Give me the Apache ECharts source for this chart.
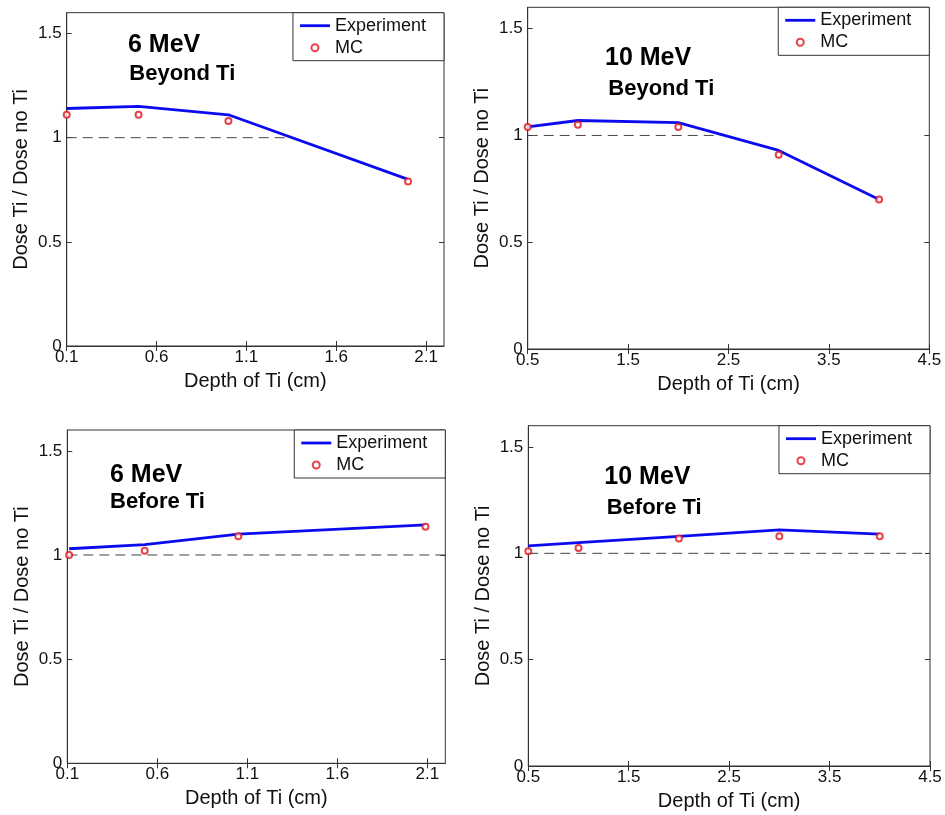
<!DOCTYPE html>
<html>
<head>
<meta charset="utf-8">
<script src="https://cdn.jsdelivr.net/npm/echarts@6/dist/echarts.min.js"></script>
<style>
  html, body { margin: 0; padding: 0; background: #fff; }
  #chart { width: 945px; height: 815px; }
</style>
</head>
<body>
<div id="chart"></div>
<script>
// Dose ratio (with Ti / without Ti) versus titanium depth

// 6 MeV, beyond Ti
const depth6Beyond = [0.1, 0.5, 1.0, 2.0];
const exp6Beyond   = [1.14, 1.15, 1.11, 0.80];
const mc6Beyond    = [1.11, 1.11, 1.08, 0.79];

// 10 MeV, beyond Ti
const depth10Beyond = [0.5, 1, 2, 3, 4];
const exp10Beyond   = [1.04, 1.07, 1.06, 0.93, 0.70];
const mc10Beyond    = [1.04, 1.05, 1.04, 0.91, 0.70];

// 6 MeV, before Ti
const depth6Before = [0.11, 0.53, 1.05, 2.09];
const exp6Before   = [1.03, 1.05, 1.10, 1.145];
const mc6Before    = [1.00, 1.02, 1.09, 1.135];

// 10 MeV, before Ti
const depth10Before = [0.5, 1, 2, 3, 4];
const exp10Before   = [1.035, 1.05, 1.08, 1.11, 1.09];
const mc10Before    = [1.01, 1.025, 1.07, 1.08, 1.08];

// tick labels
const xTicks6  = [0.1, 0.6, 1.1, 1.6, 2.1];
const xTicks10 = [0.5, 1.5, 2.5, 3.5, 4.5];
const yTicks   = [0, 0.5, 1, 1.5];

// extent of the dashed ratio = 1 reference line
const ref6Beyond  = [0.1, 1.34];
const ref10Beyond = [0.5, 2.42];
const ref6Before  = [0.1, 2.2];
const ref10Before = [0.5, 4.5];

const FONT = 'Liberation Sans, Arial, sans-serif';
const AXIS_COLOR = '#333';
const TEXT_COLOR = '#111';
const BLUE = '#0b0bf0';
const RED = '#e3121c';

const panels = [
  { grid: { left: 66.7, top: 12.7, right: 501, bottom: 469 },
    xMin: 0.1, xMax: 2.2, xTicks: xTicks6,
    depth: depth6Beyond, exp: exp6Beyond, mc: mc6Beyond, ref: ref6Beyond,
    legend: { right: 501, top: 12.7 },
    title: ['6 MeV', 'Beyond Ti'], tPos: [[128, 45.5], [129.3, 74.2]] },
  { grid: { left: 527.7, top: 7.3, right: 15.7, bottom: 466 },
    xMin: 0.5, xMax: 4.5, xTicks: xTicks10,
    depth: depth10Beyond, exp: exp10Beyond, mc: mc10Beyond, ref: ref10Beyond,
    legend: { right: 15.7, top: 7.3 },
    title: ['10 MeV', 'Beyond Ti'], tPos: [[605, 58.3], [608.3, 89.2]] },
  { grid: { left: 67.3, top: 430, right: 499.7, bottom: 51.7 },
    xMin: 0.1, xMax: 2.2, xTicks: xTicks6,
    depth: depth6Before, exp: exp6Before, mc: mc6Before, ref: ref6Before,
    legend: { right: 499.7, top: 430 },
    title: ['6 MeV', 'Before Ti'], tPos: [[110, 475], [110, 502]] },
  { grid: { left: 528.3, top: 425.7, right: 15, bottom: 49 },
    xMin: 0.5, xMax: 4.5, xTicks: xTicks10,
    depth: depth10Before, exp: exp10Before, mc: mc10Before, ref: ref10Before,
    legend: { right: 15, top: 425.7 },
    title: ['10 MeV', 'Before Ti'], tPos: [[604.3, 476.7], [606.7, 507.5]] }
];

const fmt = v => String(Math.round(v * 10) / 10);
const zip = (xs, ys) => xs.map((x, i) => [x, ys[i]]);

const grids = [], xAxes = [], yAxes = [], series = [], legends = [], texts = [];

panels.forEach((p, i) => {
  grids.push(Object.assign({ show: true, borderColor: AXIS_COLOR, borderWidth: 1,
    backgroundColor: '#fff' }, p.grid));

  const tickBase = { show: true, inside: true, length: 5,
    lineStyle: { color: AXIS_COLOR, width: 1 } };

  // bottom x axis with labels and title
  xAxes.push({
    type: 'value', gridIndex: i, position: 'bottom', min: p.xMin, max: p.xMax,
    axisLine: { show: true, lineStyle: { color: AXIS_COLOR } },
    axisTick: Object.assign({ customValues: p.xTicks }, tickBase),
    axisLabel: { customValues: p.xTicks, formatter: fmt, fontSize: 17,
      fontFamily: FONT, color: TEXT_COLOR, margin: 3 },
    splitLine: { show: false },
    name: 'Depth of Ti (cm)', nameLocation: 'middle', nameGap: 25,
    nameTextStyle: { fontSize: 20, fontFamily: FONT, color: TEXT_COLOR }
  });
  // top x axis, ticks only
  xAxes.push({
    type: 'value', gridIndex: i, position: 'top', min: p.xMin, max: p.xMax,
    axisLine: { show: false },
    axisTick: Object.assign({ customValues: p.xTicks }, tickBase),
    axisLabel: { show: false }, splitLine: { show: false }
  });
  // left y axis with labels and title
  yAxes.push({
    type: 'value', gridIndex: i, position: 'left', min: 0, max: 1.6,
    axisLine: { show: true, lineStyle: { color: AXIS_COLOR } },
    axisTick: Object.assign({ customValues: yTicks }, tickBase),
    axisLabel: { customValues: yTicks, formatter: fmt, fontSize: 17,
      fontFamily: FONT, color: TEXT_COLOR, margin: 5 },
    splitLine: { show: false },
    name: 'Dose Ti / Dose no Ti', nameLocation: 'middle', nameGap: 35,
    nameTextStyle: { fontSize: 20, fontFamily: FONT, color: TEXT_COLOR }
  });
  // right y axis, ticks only
  yAxes.push({
    type: 'value', gridIndex: i, position: 'right', min: 0, max: 1.6,
    axisLine: { show: false },
    axisTick: Object.assign({ customValues: yTicks }, tickBase),
    axisLabel: { show: false }, splitLine: { show: false }
  });

  // dashed ratio = 1 reference
  series.push({
    type: 'line', name: 'ref', xAxisIndex: 2 * i, yAxisIndex: 2 * i,
    data: p.ref.map(x => [x, 1]), symbol: 'none', silent: true, z: 1,
    lineStyle: { color: '#444', width: 1, type: [10, 6] }
  });
  // measured curve
  series.push({
    type: 'line', name: 'Experiment', xAxisIndex: 2 * i, yAxisIndex: 2 * i,
    data: zip(p.depth, p.exp), symbol: 'none', z: 2,
    lineStyle: { color: BLUE, width: 2.8 }, itemStyle: { color: BLUE }
  });
  // Monte Carlo points
  series.push({
    type: 'scatter', name: 'MC', xAxisIndex: 2 * i, yAxisIndex: 2 * i,
    data: zip(p.depth, p.mc), symbol: 'emptyCircle', symbolSize: 6, z: 3,
    itemStyle: { color: RED, borderColor: RED, borderWidth: 2 }
  });

  legends.push({
    orient: 'vertical', right: p.legend.right, top: p.legend.top,
    data: [
      { name: 'Experiment', icon: 'path://M0,0 H30 V2.8 H0 Z' },
      { name: 'MC' }
    ],
    itemWidth: 30, itemHeight: 7, itemGap: 0,
    padding: [2, 18, 2, 7], borderColor: AXIS_COLOR, borderWidth: 1,
    backgroundColor: '#fff', selectedMode: false,
    textStyle: { fontSize: 18, lineHeight: 22, fontFamily: FONT, color: TEXT_COLOR }
  });

  texts.push({
    type: 'text', x: p.tPos[0][0], y: p.tPos[0][1], z: 10,
    style: { text: p.title[0], font: 'bold 25px ' + FONT, fill: '#000',
      textAlign: 'left', textVerticalAlign: 'middle', verticalAlign: 'middle' }
  });
  texts.push({
    type: 'text', x: p.tPos[1][0], y: p.tPos[1][1], z: 10,
    style: { text: p.title[1], font: 'bold 22px ' + FONT, fill: '#000',
      textAlign: 'left', textVerticalAlign: 'middle', verticalAlign: 'middle' }
  });
});

const chart = echarts.init(document.getElementById('chart'), null, { renderer: 'canvas' });
chart.setOption({
  animation: false,
  backgroundColor: '#fff',
  grid: grids,
  xAxis: xAxes,
  yAxis: yAxes,
  legend: legends,
  graphic: texts,
  series: series
});
</script>
</body>
</html>
